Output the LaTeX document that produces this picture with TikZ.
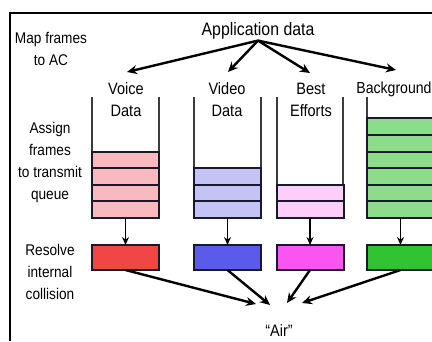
\documentclass[tikz,border=0pt]{standalone}
\usepackage{fontspec}
\setmainfont{Liberation Sans}[FakeStretch=0.88]
\usetikzlibrary{positioning,arrows.meta}
\definecolor{qLine}  {RGB}{ 25, 25, 45}
\definecolor{qWall}  {RGB}{ 60, 60, 60}
\definecolor{vSlot}  {RGB}{250,185,190}
\definecolor{vBox}   {RGB}{240, 70, 70}
\definecolor{dSlot}  {RGB}{195,195,245}
\definecolor{dBox}   {RGB}{ 90, 90,235}
\definecolor{bSlot}  {RGB}{255,205,250}
\definecolor{bBox}   {RGB}{250, 85,240}
\definecolor{gSlot}  {RGB}{140,220,140}
\definecolor{gBox}   {RGB}{ 50,195, 50}

\begin{document}
\begin{tikzpicture}[x=1pt,y=-1pt]

% ---------------------------------------------------------------- styles
\tikzset{
  txt/.style    = {align=center, inner sep=1pt, font=\fontsize{16.5}{22}\selectfont},
  side/.style   = {align=center, inner sep=1pt, font=\fontsize{15.5}{22}\selectfont},
  slot/.style   = {draw=qLine, line width=2pt, minimum width=67pt,
                   minimum height=16.6pt, inner sep=0pt, outer sep=0pt},
  acbox/.style  = {draw=qLine, line width=2pt, minimum width=67pt,
                   minimum height=25pt, inner sep=0pt, outer sep=0pt},
  wall/.style   = {draw=qWall, line width=1.2pt},
  feed/.style   = {line width=1.6pt, -{Stealth[length=8pt,width=7pt]}},
  fan/.style    = {line width=2.4pt, -{Stealth[length=10pt,width=9pt]}},
}

\useasboundingbox (0,0) rectangle (432,341);
\clip (0,0) rectangle (432,341);

% frame
\draw[line width=2.5pt] (432,13) -- (10,13) -- (10,341);

% ================================================================ 1 labels
\node[txt, font=\fontsize{18}{22}\selectfont] (app) at (258,31) {Application data};
\node[side] (lmap)    at (51,49)  {Map frames\\to AC};
\node[side] (lassign) at (50,162) {Assign\\frames\\to transmit\\queue};
\node[side] (lres)    at (50,272) {Resolve\\internal\\collision};

\node[txt] (lvoice) at (126,100) {Voice\\Data};
\node[txt] (lvideo) at (227,100) {Video\\Data};
\node[txt] (lbest)  at (311,100) {Best\\Efforts};
\node[txt, font=\fontsize{16}{22}\selectfont] (lback) at (394,89) {Background};

% ================================================================ 2 queues
\draw[wall] (92,97)  -- (92,218);  \draw[wall] (159,97) -- (159,218);
\draw[wall] (194,97) -- (194,218); \draw[wall] (261,97) -- (261,218);
\draw[wall] (277,97) -- (277,218); \draw[wall] (343,97) -- (343,218);
\draw[wall] (367,97) -- (367,218); \draw[wall] (434,97) -- (434,218);

\foreach \i in {1,...,4}
  \node[slot, fill=vSlot] (qv\i) at (125.5,{218-16.6*(\i-0.5)}) {};
\foreach \i in {1,...,3}
  \node[slot, fill=dSlot] (qd\i) at (227.5,{218-16.6*(\i-0.5)}) {};
\foreach \i in {1,...,2}
  \node[slot, fill=bSlot] (qb\i) at (310,{218-16.6*(\i-0.5)}) {};
\foreach \i in {1,...,6}
  \node[slot, fill=gSlot] (qg\i) at (400.5,{218-16.6*(\i-0.5)}) {};

% ================================================================ 3 collision boxes
\node[acbox, fill=vBox] (voice) at (125.5,257.5) {};
\node[acbox, fill=dBox] (video) at (227.5,257.5) {};
\node[acbox, fill=bBox] (best)  at (310,257.5)   {};
\node[acbox, fill=gBox] (back)  at (400.5,257.5) {};

\draw[feed] (qv1.south) -- (voice.north);
\draw[feed] (qd1.south) -- (video.north);
\draw[feed] (qb1.south) -- (best.north);
\draw[feed] (qg1.south) -- (back.north);

% ================================================================ 4 air
\node[txt] (air) at (279,331) {``Air''};

% ------------------------------------------------- arrow ends
\coordinate (tvoice) at (127,72);
\coordinate (tvideo) at (228,72);
\coordinate (tbest)  at (310,73);
\coordinate (tback)  at (396,70);
\coordinate (avoice) at (256,304);
\coordinate (avideo) at (270,305);
\coordinate (abest)  at (287,303);
\coordinate (aback)  at (302,303);

\draw[fan] (app.south) -- (tvoice);
\draw[fan] (app.south) -- (tvideo);
\draw[fan] (app.south) -- (tbest);
\draw[fan] (app.south) -- (tback);

\draw[fan] (voice.south) -- (avoice);
\draw[fan] (video.south) -- (avideo);
\draw[fan] (best.south)  -- (abest);
\draw[fan] (back.south)  -- (aback);

\end{tikzpicture}
\end{document}
